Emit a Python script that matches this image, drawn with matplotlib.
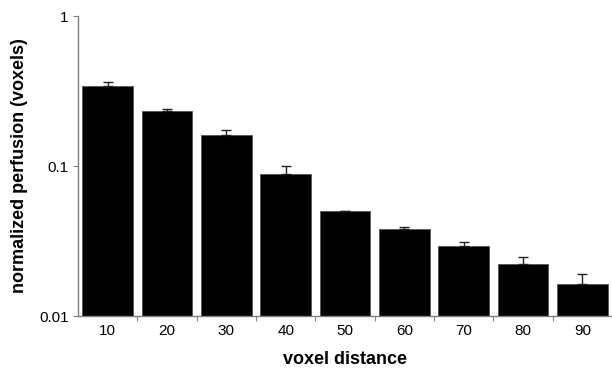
import matplotlib
matplotlib.use("Agg")
import matplotlib.pyplot as plt
import numpy as np
from matplotlib.ticker import FixedLocator, NullLocator

plt.rcParams['font.family'] = ['Liberation Sans', 'DejaVu Sans']

distances = [10, 20, 30, 40, 50, 60, 70, 80, 90]
perfusion = [0.341, 0.234, 0.162, 0.088, 0.0501, 0.0379, 0.0293, 0.0223, 0.0163]
errors = [0.020, 0.007, 0.012, 0.0125, 0.0004, 0.0013, 0.0017, 0.0024, 0.0028]
y_ticks = [0.01, 0.1, 1]
y_tick_labels = ["0.01", "0.1", "1"]

fig = plt.figure(figsize=(6.12, 3.72), dpi=100)
ax = fig.add_axes([78 / 612, 1 - 316 / 372, 534 / 612, 300 / 372])

x = np.arange(len(distances))
ax.bar(x, perfusion, width=0.85, color="black", edgecolor="#555555", linewidth=0.6,
       zorder=2)
ax.errorbar(x, perfusion, yerr=[np.zeros(len(errors)), errors], fmt="none",
            ecolor="#222222", elinewidth=1.0, capsize=3.5, capthick=1.0, zorder=3)

ax.set_yscale("log")
ax.set_ylim(0.01, 1)
ax.set_xlim(-0.5, len(distances) - 0.5)

ax.yaxis.set_major_locator(FixedLocator(y_ticks))
ax.yaxis.set_minor_locator(NullLocator())
ax.set_yticklabels(y_tick_labels)

# category boundaries carry the tick marks, centres carry the labels
ax.xaxis.set_major_locator(FixedLocator(np.arange(0.5, len(distances) - 1, 1.0)))
ax.xaxis.set_minor_locator(FixedLocator(x))
ax.set_xticklabels([])
ax.set_xticklabels([str(d) for d in distances], minor=True)
ax.tick_params(axis="x", which="major", direction="out", length=3.6, width=0.8,
               color="#808080")
ax.tick_params(axis="x", which="minor", length=0, pad=6, labelsize=11)
ax.tick_params(axis="y", which="major", direction="out", length=3.6, width=0.8,
               color="#808080", labelsize=11, pad=3)

for side in ("top", "right"):
    ax.spines[side].set_visible(False)
for side in ("left", "bottom"):
    ax.spines[side].set_color("#808080")
    ax.spines[side].set_linewidth(1.0)

ax.set_xlabel("voxel distance", fontsize=13, fontweight="bold", labelpad=9)
ax.set_ylabel("normalized perfusion (voxels)", fontsize=13, fontweight="bold",
              labelpad=8)

fig.savefig("out.png", dpi=100)
